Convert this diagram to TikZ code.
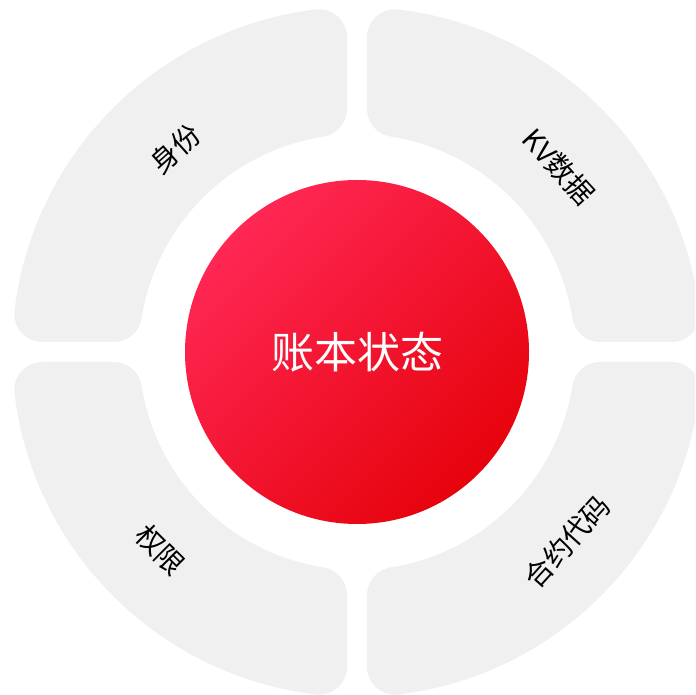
\documentclass[tikz,border=0pt]{standalone}
\usepackage{fontspec}
\setmainfont{Noto Sans CJK SC}
\definecolor{segGray}{HTML}{F0F0F0}
\definecolor{redTop}{HTML}{FF2754}
\definecolor{redBot}{HTML}{E6030C}
\begin{document}
\begin{tikzpicture}[x=1pt,y=1pt,
  segfill/.style={fill=segGray},
  lbl/.style={font=\fontsize{28}{32}\selectfont, text=black, inner sep=0pt, anchor=center},
  core/.style={circle, minimum size=344pt, inner sep=0pt, top color=redTop, bottom color=redBot,
     shading angle=45, text=white, font=\fontsize{43}{48}\selectfont}]
\useasboundingbox (0,0) rectangle (695,695);
\clip (0,0) rectangle (695,695);
\coordinate (C) at (357,343);
\pgfmathsetmacro\g{10}
\pgfmathsetmacro\Ro{345}
\pgfmathsetmacro\ri{218}
\pgfmathsetmacro\f{28}
\pgfmathsetmacro\to{acos((\g+\f)/(\Ro-\f))}
\pgfmathsetmacro\ti{acos((\g+\f)/(\ri+\f))}
\pgfmathsetmacro\yo{(\Ro-\f)*sin(\to)}
\pgfmathsetmacro\yi{(\ri+\f)*sin(\ti)}
\pgfmathsetmacro\too{90-\to}
\pgfmathsetmacro\tii{90-\ti}
\pgfmathsetmacro\tia{-90-\ti}
\pgfmathsetmacro\tib{\ti-180}
\foreach \k in {0,1,2,3}{
  \begin{scope}[shift={(C)},rotate=90*\k]
    \fill[segfill] (\g,\yi) -- (\g,\yo)
      arc[start angle=180,end angle=\to,radius=\f]
      arc[start angle=\to,end angle=\too,radius=\Ro]
      arc[start angle=\too,end angle=-90,radius=\f]
      -- (\yi,\g)
      arc[start angle=-90,end angle=\tia,radius=\f]
      arc[start angle=\tii,end angle=\ti,radius=\ri]
      arc[start angle=\tib,end angle=-180,radius=\f]
      -- cycle;
  \end{scope}
}
\node[core] (state) at (C) {账本状态};
\node[lbl, rotate=41.8] (identity) at ([shift={(131.8:273)}]C) {身份};
\node[lbl, rotate=-47.5] (kv) at ([shift={(42.5:274)}]C) {KV数据};
\node[lbl, rotate=47.9] (code) at ([shift={(-42.1:283)}]C) {合约代码};
\node[lbl, rotate=-44.8] (perm) at ([shift={(-134.8:279)}]C) {权限};
\end{tikzpicture}
\end{document}
